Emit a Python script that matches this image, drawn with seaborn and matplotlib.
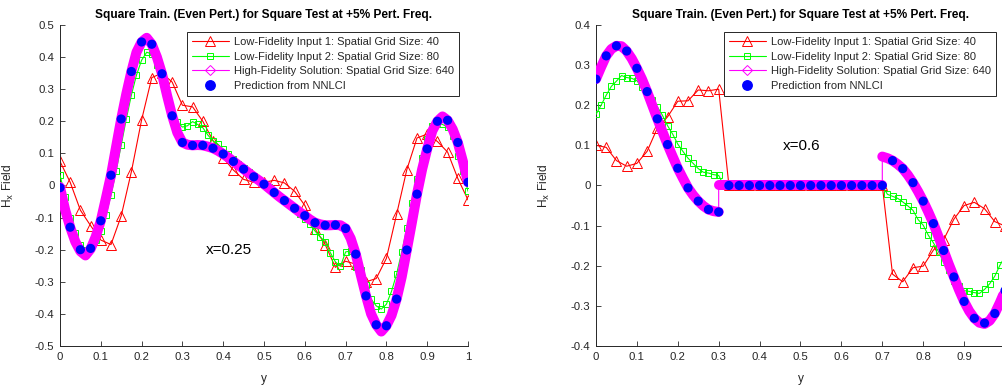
import numpy as np
import matplotlib
matplotlib.use("Agg")
import matplotlib.pyplot as plt
import seaborn as sns
from matplotlib.lines import Line2D
from matplotlib.ticker import FuncFormatter, MultipleLocator

sns.set_theme(style="ticks")
plt.rcParams["font.family"] = ["Liberation Sans", "DejaVu Sans"]
plt.rcParams["axes.unicode_minus"] = False

TITLE = "Square Train. (Even Pert.) for Square Test at +5% Pert. Freq."
LEGEND_LABELS = [
    "Low-Fidelity Input 1: Spatial Grid Size: 40",
    "Low-Fidelity Input 2: Spatial Grid Size: 80",
    "High-Fidelity Solution: Spatial Grid Size: 640",
    "Prediction from NNLCI",
]
X_LABEL = "y"
Y_LABEL = r"H$_{\rm x}$ Field"

# spatial grids (y coordinate)
grid40 = np.linspace(0.0, 1.0, 41)
grid80 = np.linspace(0.0, 1.0, 81)

# ---------------- left panel: x = 0.25 ----------------
left_note = "x=0.25"
left_red = [
    0.075, 0.010, -0.077, -0.125, -0.170, -0.184, -0.095, 0.043, 0.204, 0.336,
    0.350, 0.322, 0.250, 0.245, 0.200, 0.140, 0.086, 0.048, 0.019, 0.010,
    0.010, 0.016, 0.008, -0.018, -0.062, -0.135, -0.184, -0.255, -0.236, -0.245,
    -0.300, -0.290, -0.227, -0.090, 0.049, 0.148, 0.160, 0.137, 0.104, 0.022,
    -0.045,
]
left_green = [
    0.033, -0.035, -0.100, -0.147, -0.184, -0.200, -0.188, -0.169, -0.143, -0.093,
    -0.030, 0.044, 0.125, 0.207, 0.282, 0.344, 0.390, 0.415, 0.410, 0.375,
    0.330, 0.275, 0.225, 0.197, 0.182, 0.186, 0.199, 0.190, 0.180, 0.157,
    0.139, 0.128, 0.113, 0.098, 0.082, 0.068, 0.055, 0.043, 0.030, 0.018,
    0.006, -0.006, -0.020, -0.033, -0.046, -0.058, -0.072, -0.088, -0.105, -0.121,
    -0.142, -0.160, -0.175, -0.209, -0.238, -0.252, -0.207, -0.204, -0.254, -0.262,
    -0.310, -0.354, -0.375, -0.385, -0.370, -0.330, -0.276, -0.207, -0.134, -0.056,
    0.020, 0.085, 0.145, 0.184, 0.195, 0.190, 0.182, 0.153, 0.093, 0.044,
    -0.018,
]
left_hf = [
    -0.005, -0.075, -0.130, -0.175, -0.205, -0.218, -0.198, -0.160, -0.110, -0.040,
    0.032, 0.120, 0.207, 0.285, 0.355, 0.415, 0.447, 0.460, 0.440, 0.400,
    0.348, 0.280, 0.217, 0.165, 0.134, 0.127, 0.125, 0.126, 0.125, 0.121,
    0.116, 0.108, 0.098, 0.087, 0.075, 0.063, 0.051, 0.039, 0.027, 0.016,
    0.004, -0.009, -0.022, -0.035, -0.047, -0.059, -0.071, -0.083, -0.094, -0.106,
    -0.116, -0.121, -0.124, -0.124, -0.123, -0.124, -0.134, -0.165, -0.214, -0.280,
    -0.344, -0.400, -0.434, -0.455, -0.437, -0.405, -0.354, -0.285, -0.201, -0.115,
    -0.027, 0.050, 0.114, 0.170, 0.200, 0.215, 0.203, 0.175, 0.134, 0.075,
    0.010,
]
left_pred = [
    -0.007, -0.130, -0.200, -0.196, -0.110, 0.032, 0.207, 0.355, 0.447, 0.440,
    0.348, 0.217, 0.134, 0.125, 0.125, 0.116, 0.098, 0.075, 0.051, 0.027,
    0.004, -0.022, -0.047, -0.071, -0.094, -0.116, -0.124, -0.123, -0.134, -0.214,
    -0.344, -0.434, -0.437, -0.354, -0.201, -0.027, 0.114, 0.200, 0.203, 0.134,
    0.010,
]

# ---------------- right panel: x = 0.6 ----------------
right_note = "x=0.6"
right_red = (
    [0.100, 0.095, 0.062, 0.048, 0.055, 0.085, 0.143, 0.171, 0.210, 0.211,
     0.238, 0.236, 0.240]
    + [0.0] * 16
    + [-0.221, -0.240, -0.205, -0.201, -0.161, -0.135, -0.084, -0.050, -0.042,
       -0.058, -0.090, -0.101]
)
right_green = (
    [0.177, 0.200, 0.225, 0.247, 0.260, 0.274, 0.269, 0.267, 0.261, 0.245,
     0.232, 0.214, 0.196, 0.175, 0.149, 0.128, 0.103, 0.085, 0.068, 0.055,
     0.042, 0.033, 0.031, 0.027, 0.025]
    + [0.0] * 32
    + [-0.022, -0.027, -0.032, -0.041, -0.051, -0.062, -0.085, -0.099, -0.124,
       -0.143, -0.165, -0.191, -0.211, -0.238, -0.250, -0.262, -0.264, -0.267,
       -0.269, -0.259, -0.245, -0.226, -0.199, -0.177]
)
# high-fidelity solution, three pieces (jumps at y = 0.3 and y = 0.7)
right_hf_a = [
    0.265, 0.295, 0.323, 0.340, 0.348, 0.347, 0.335, 0.316, 0.292, 0.265,
    0.234, 0.200, 0.166, 0.134, 0.102, 0.072, 0.043, 0.018, -0.006, -0.024,
    -0.039, -0.051, -0.060, -0.064, -0.066,
]
right_hf_b = [0.0] * 33
right_hf_c = [
    0.072, 0.068, 0.062, 0.053, 0.042, 0.026, 0.007, -0.015, -0.039, -0.066,
    -0.095, -0.128, -0.162, -0.196, -0.228, -0.260, -0.289, -0.313, -0.331,
    -0.342, -0.345, -0.337, -0.319, -0.292, -0.262,
]
right_pred = (
    [0.265, 0.323, 0.348, 0.335, 0.292, 0.234, 0.166, 0.102, 0.043, -0.006,
     -0.039, -0.060, -0.066]
    + [0.0] * 16
    + [0.062, 0.042, 0.007, -0.039, -0.095, -0.162, -0.228, -0.289, -0.331,
       -0.343, -0.319, -0.262]
)

RED, GREEN, MAGENTA, BLUE = "#ff0000", "#00ff00", "#ff00ff", "#0000ff"
AX_COLOR = "#262626"


def tick_fmt(v, _pos):
    r = round(v, 2)
    if abs(r) < 1e-9:
        return "0"
    return f"{r:g}"


def hf_pieces(pieces):
    xs, ys, seg = [], [], []
    start = 0
    for k, p in enumerate(pieces):
        n = len(p)
        xs.extend(grid80[start:start + n])
        ys.extend(p)
        seg.extend([k] * n)
        start += n - 1
    return np.array(xs), np.array(ys), np.array(seg)


def draw(ax, red, green, hf_pieces_list, pred, ylim, note, note_xy):
    hx, hy, hseg = hf_pieces(hf_pieces_list)
    sns.lineplot(x=grid40, y=red, ax=ax, color=RED, lw=0.8, marker="^",
                 ms=6.5, mfc="none", mec=RED, mew=0.7, sort=False,
                 estimator=None, zorder=2)
    sns.lineplot(x=grid80, y=green, ax=ax, color=GREEN, lw=0.8, marker="s",
                 ms=4.6, mfc="none", mec=GREEN, mew=0.7, sort=False,
                 estimator=None, zorder=3)
    sns.lineplot(x=hx, y=hy, units=hseg, ax=ax, color=MAGENTA, lw=7.2,
                 sort=False, estimator=None, zorder=4, solid_capstyle="round")
    sns.lineplot(x=hx, y=hy, ax=ax, color=MAGENTA, lw=0.8, sort=False,
                 estimator=None, zorder=4)
    sns.scatterplot(x=grid40, y=pred, ax=ax, color=BLUE, s=44,
                    edgecolor="none", zorder=5)

    ax.set_xlim(0, 1)
    ax.set_ylim(*ylim)
    ax.xaxis.set_major_locator(MultipleLocator(0.1))
    ax.yaxis.set_major_locator(MultipleLocator(0.1))
    ax.xaxis.set_major_formatter(FuncFormatter(tick_fmt))
    ax.yaxis.set_major_formatter(FuncFormatter(tick_fmt))
    ax.tick_params(direction="in", length=3.5, width=0.6, colors=AX_COLOR,
                   labelsize=8.2, pad=4)
    for s in ("left", "bottom"):
        ax.spines[s].set_color(AX_COLOR)
        ax.spines[s].set_linewidth(0.7)
    sns.despine(ax=ax)
    ax.set_title(TITLE, fontsize=8.6, fontweight="bold", color="black", pad=5)
    ax.set_xlabel(X_LABEL, fontsize=8.6, color=AX_COLOR)
    ax.set_ylabel(Y_LABEL, fontsize=8.6, color=AX_COLOR)
    ax.xaxis.set_label_coords(0.5, -0.085)
    ax.yaxis.set_label_coords(-0.108, 0.5)
    ax.text(note_xy[0], note_xy[1], note, fontsize=11, color="black",
            ha="center", va="center")

    handles = [
        Line2D([], [], color=RED, lw=0.8, marker="^", ms=6.5, mfc="none", mew=0.7),
        Line2D([], [], color=GREEN, lw=0.8, marker="s", ms=4.6, mfc="none", mew=0.7),
        Line2D([], [], color=MAGENTA, lw=0.8, marker="D", ms=5, mfc="none", mew=0.7),
        Line2D([], [], color=BLUE, lw=0, marker="o", ms=6.8),
    ]
    leg = ax.legend(handles, LEGEND_LABELS, loc="upper right",
                    bbox_to_anchor=(0.977, 0.977), borderaxespad=0,
                    fontsize=8, frameon=True, fancybox=False, framealpha=1,
                    edgecolor="#262626", handlelength=3.3, labelspacing=0.4,
                    handletextpad=0.45, borderpad=0.45, numpoints=1)
    leg.get_frame().set_linewidth(0.7)


fig = plt.figure(figsize=(10.03, 3.87), dpi=100)
axL = fig.add_axes([0.0598, 0.106, 0.4068, 0.8295])
axR = fig.add_axes([0.5942, 0.106, 0.4078, 0.8295])

draw(axL, left_red, left_green, [left_hf], left_pred, (-0.5, 0.5),
     left_note, (0.414, -0.2))
draw(axR, right_red, right_green, [right_hf_a, right_hf_b, right_hf_c],
     right_pred, (-0.4, 0.4), right_note, (0.502, 0.098))

fig.savefig("out.png", dpi=100)
